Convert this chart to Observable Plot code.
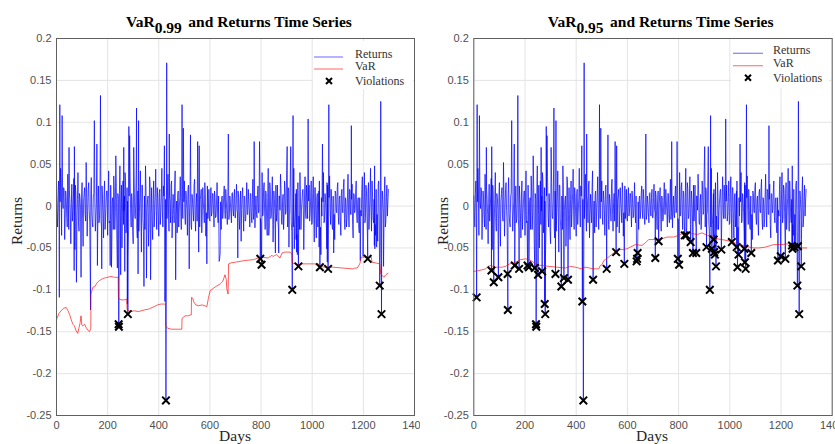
<!DOCTYPE html>
<html><head><meta charset="utf-8">
<script src="https://cdn.jsdelivr.net/npm/d3@7"></script>
<script src="https://cdn.jsdelivr.net/npm/@observablehq/plot@0.6"></script>
<style>
html,body{margin:0;padding:0;background:#fff;width:835px;height:444px;overflow:hidden;}
#wrap{position:relative;width:835px;height:444px;}
.panel{position:absolute;top:0;height:444px;overflow:hidden;}
#overlay{position:absolute;left:0;top:0;pointer-events:none;}
.ttl{font-family:'Liberation Serif','Times New Roman',serif;font-weight:bold;font-size:15.5px;fill:#000;}
.lab{font-family:'Liberation Serif','Times New Roman',serif;font-size:15.5px;fill:#262626;}
.leg{font-family:'Liberation Serif','Times New Roman',serif;font-size:12px;fill:#333;}
</style></head><body>
<div id="wrap">
  <div class="panel" id="p1" style="left:0;width:420px"></div>
  <div class="panel" id="p2" style="left:420px;width:415px"></div>
  <svg id="overlay" width="835" height="444">
    <text class="ttl" x="126" y="27">VaR<tspan dy="6">0.99</tspan><tspan dy="-6" dx="6.5">and Returns Time Series</tspan></text>
    <text class="ttl" x="547.7" y="27">VaR<tspan dy="6">0.95</tspan><tspan dy="-6" dx="6.5">and Returns Time Series</tspan></text>
    <text class="lab" text-anchor="middle" transform="translate(22.4,221) rotate(-90)">Returns</text>
    <text class="lab" text-anchor="middle" transform="translate(448,221) rotate(-90)">Returns</text>
    <text class="lab" text-anchor="middle" x="235" y="441">Days</text>
    <text class="lab" text-anchor="middle" x="652" y="441">Days</text>
    <g>
      <rect x="313" y="41" width="100" height="48" fill="#fff"/>
      <line x1="314" x2="343" y1="57" y2="57" stroke="#8080ff" stroke-width="1.2"/>
      <text class="leg" x="355" y="57.5">Returns</text>
      <line x1="314" x2="343" y1="69" y2="69" stroke="#ff8080" stroke-width="1.2"/>
      <text class="leg" x="355" y="70">VaR</text>
      <path d="M326,78L332,84M326,84L332,78" stroke="#000" stroke-width="2"/>
      <text class="leg" x="355" y="84.5">Violations</text>
    </g>
    <g>
      <rect x="731" y="39" width="98" height="49" fill="#fff"/>
      <line x1="733" x2="763" y1="53.3" y2="53.3" stroke="#8080ff" stroke-width="1.2"/>
      <text class="leg" x="773" y="54">Returns</text>
      <line x1="733" x2="763" y1="65.7" y2="65.7" stroke="#ff8080" stroke-width="1.2"/>
      <text class="leg" x="773" y="66.7">VaR</text>
      <path d="M745,74.7L751,80.7M745,80.7L751,74.7" stroke="#000" stroke-width="2"/>
      <text class="leg" x="773" y="81.7">Violations</text>
    </g>
  </svg>
</div>
<script>
// Axis ticks
const xTicks = [0, 200, 400, 600, 800, 1000, 1200, 1400];
const yTicks = [-0.25, -0.2, -0.15, -0.1, -0.05, 0, 0.05, 0.1, 0.15, 0.2];

// Returns (x1000), read on days 0,4,8,...
const retBase = [
  12,-25,30,-8,45,-35,5,22,-40,18,-12,38,-28,8,-45,26,-5,33,-52,14,-18,40,-30,10,-22,
  28,-48,15,-10,52,-36,20,-5,-58,34,-20,12,45,-30,6,-42,24,-15,55,-26,8,-38,30,-12,18,
  -35,42,-18,25,-55,10,36,-28,60,-40,15,-22,48,-10,-50,30,-6,40,-32,22,-60,12,35,-25,5,
  -45,28,-15,50,-38,18,-8,42,-55,25,-30,12,48,-20,8,-48,35,-12,22,-40,30,-5,44,-28,10,
  -36,20,-8,45,-25,12,-42,30,-15,38,-30,5,25,-38,14,-20,42,-10,-32,18,-5,35,-28,10,-18,
  30,-22,8,-35,25,-12,40,-28,6,-18,32,-30,15,-8,38,-25,12,-32,22,-5,28,-36,10,-15,20,
  -18,22,-8,15,-25,10,-12,28,-20,5,18,-28,12,-6,24,-15,8,-22,30,-10,4,-20,16,-12,20,
  -14,26,-8,12,-28,18,-4,22,-30,10,-16,28,-10,6,-25,15,-20,32,-8,-26,12,-14,24,-6,18,
  -22,40,-10,28,-28,15,-5,45,-25,20,-12,35,-28,8,48,-18,25,-26,12,38,-20,5,-28,30,-10,
  42,-25,18,-8,36,-30,10,45,-22,15,-34,28,-12,40,-28,6,20,-32,35,-15,8,-36,25,-10,30,
  -20,35,-12,22,-38,15,-5,30,-25,10,-35,40,-18,8,-30,25,-12,36,-22,5,-28,20,-40,15,-8,
  28,-22,12,-35,20,-8,32,-28,6,-15,38,-25,18,-10,26,-38,14,-4,30,-20,10,-32,22,-12,35,
  -25,40,-15,20,-38,28,-8,45,-30,12,-20,48,-35,15,-42,30,-10,38,-25,8,-40,35,-18,25,5
];
// Returns (x1000), read on days 2,6,10,...
const retBase2 = [
  -8,15,-20,5,22,-12,-3,18,-15,10,-25,6,20,-10,3,-18,12,-6,25,-14,8,-20,15,-4,10,
  -15,6,22,-18,10,-5,28,-20,12,-8,-25,15,4,-12,30,-6,-20,10,-15,24,-8,12,-28,5,18,
  10,-20,30,-12,5,-28,18,-8,22,-30,8,15,-18,25,-5,-22,12,30,-15,6,-25,20,-10,15,-30,
  20,-12,5,-25,18,-30,10,-8,25,-15,6,-28,20,-5,12,-20,28,-10,-18,8,-25,15,-6,22,-12,
  15,-22,10,-5,24,-15,8,-28,18,-6,12,-20,30,-10,-3,22,-18,6,14,-25,10,-8,20,-15,5,
  -12,18,-5,20,-15,8,-22,14,-6,25,-10,4,-18,12,-25,8,20,-12,5,-20,15,-8,24,-5,-15,
  8,-12,15,-5,18,-14,6,-10,12,-18,5,10,-15,14,-4,20,-10,6,-16,12,-8,15,-5,10,-14,
  10,-5,18,-12,6,-15,14,-8,12,-18,6,-10,20,-6,15,-12,8,-16,18,-5,-10,14,-8,12,-15,
  15,-12,22,-8,18,-20,10,-5,28,-15,6,-22,18,-10,25,-8,-18,12,-5,20,-22,14,-10,18,-6,
  -15,22,-10,30,-18,8,-25,15,-8,20,-12,25,-28,10,-5,18,-20,12,-8,25,-15,6,-18,10,-22,
  15,-8,22,-15,10,-25,18,-6,25,-12,5,-20,15,-8,28,-18,10,-5,20,-25,12,-10,18,-6,22,
  -12,8,-18,15,-6,22,-15,10,-25,12,-5,20,-10,8,-22,15,-8,18,-12,6,-25,10,-5,20,-15,
  12,-20,25,-8,15,-28,10,-5,30,-15,8,-22,20,-10,25,-18,12,-30,18,-8,15,-25,10,-12,20
];

// Positive return spikes
const upDays = [13,22,49,70,148,158,172,263,283,286,302,313,321,422,431,441,491,496,524,552,558,672,773,794,902,916,925,984,1040,1065,1153,1268];
const upVals = [0.121,0.108,0.070,0.071,0.102,0.074,0.132,0.070,0.095,0.084,0.070,0.117,0.102,0.072,0.171,0.086,0.121,0.093,0.085,0.077,0.072,0.086,0.077,0.077,0.071,0.071,0.108,0.104,0.074,0.121,0.096,0.125];

// Negative return spikes = VaR 0.95 violations
const v95Days = [11,69,78,96,132,133,160,177,210,215,238,243,244,251,267,277,279,319,342,352,368,424,428,466,519,556,588,636,638,640,709,722,797,802,824,830,847,856,869,909,922,930,937,939,942,946,967,1008,1027,1030,1034,1057,1059,1062,1084,1188,1199,1217,1243,1245,1252,1264,1266,1271,1279];
const v95Vals = [-0.109,-0.077,-0.091,-0.085,-0.081,-0.124,-0.071,-0.075,-0.071,-0.073,-0.074,-0.141,-0.144,-0.082,-0.078,-0.117,-0.129,-0.081,-0.096,-0.086,-0.088,-0.114,-0.232,-0.088,-0.075,-0.055,-0.069,-0.066,-0.063,-0.056,-0.062,-0.042,-0.063,-0.070,-0.035,-0.035,-0.043,-0.056,-0.056,-0.049,-0.100,-0.051,-0.040,-0.055,-0.058,-0.072,-0.052,-0.043,-0.049,-0.073,-0.058,-0.051,-0.067,-0.075,-0.056,-0.065,-0.060,-0.063,-0.047,-0.051,-0.049,-0.095,-0.048,-0.129,-0.072];

// VaR 0.99 violations
const v99Days = [243,244,279,428,797,802,922,946,1030,1062,1217,1264,1271];
const v99Vals = [-0.141,-0.144,-0.129,-0.232,-0.063,-0.070,-0.100,-0.072,-0.073,-0.075,-0.063,-0.095,-0.129];

// VaR 0.99 series
const var99Days = [0,3,10,18,28,38,45,51,58,64,70,77,83,88,92,96,99,103,110,116,122,129,134,135,142,150,160,168,178,187,200,213,226,241,242,252,265,275,276,290,304,320,343,360,382,395,408,426,427,435,450,477,490,491,503,515,523,527,528,533,536,545,555,570,588,594,601,614,628,640,650,659,664,666,671,673,680,700,737,770,789,796,800,828,841,848,860,874,882,893,913,921,922,945,960,1004,1024,1030,1049,1082,1120,1160,1166,1176,1186,1192,1205,1231,1234,1250,1264,1268,1280,1288,1296];
const var99Vals = [-0.136,-0.133,-0.128,-0.125,-0.122,-0.121,-0.125,-0.129,-0.136,-0.141,-0.143,-0.149,-0.152,-0.145,-0.140,-0.131,-0.142,-0.143,-0.141,-0.145,-0.148,-0.150,-0.146,-0.105,-0.097,-0.096,-0.091,-0.089,-0.087,-0.086,-0.085,-0.084,-0.085,-0.085,-0.110,-0.112,-0.112,-0.111,-0.124,-0.126,-0.125,-0.126,-0.124,-0.123,-0.120,-0.118,-0.117,-0.117,-0.143,-0.146,-0.147,-0.147,-0.147,-0.134,-0.131,-0.131,-0.130,-0.130,-0.109,-0.110,-0.114,-0.118,-0.119,-0.118,-0.120,-0.110,-0.101,-0.098,-0.095,-0.093,-0.090,-0.082,-0.088,-0.099,-0.105,-0.069,-0.068,-0.067,-0.065,-0.064,-0.062,-0.062,-0.061,-0.062,-0.059,-0.060,-0.058,-0.062,-0.056,-0.055,-0.055,-0.057,-0.068,-0.070,-0.069,-0.069,-0.069,-0.072,-0.073,-0.073,-0.074,-0.075,-0.074,-0.074,-0.069,-0.061,-0.061,-0.061,-0.067,-0.068,-0.069,-0.081,-0.085,-0.082,-0.080];

// VaR 0.95 series
const var95Days = [0,20,46,55,65,84,111,123,140,156,170,182,202,215,228,245,267,293,326,358,378,397,423,436,469,488,494,501,508,514,530,546,566,580,599,605,631,657,670,683,710,735,755,780,800,813,840,872,891,913,924,950,969,1002,1030,1061,1093,1113,1140,1171,1200,1230,1249,1256,1280,1301];
const var95Vals = [-0.078,-0.077,-0.075,-0.072,-0.071,-0.073,-0.073,-0.072,-0.069,-0.068,-0.066,-0.064,-0.063,-0.064,-0.066,-0.070,-0.071,-0.072,-0.073,-0.074,-0.072,-0.073,-0.075,-0.073,-0.075,-0.075,-0.071,-0.070,-0.065,-0.064,-0.060,-0.056,-0.052,-0.052,-0.051,-0.050,-0.046,-0.047,-0.044,-0.040,-0.040,-0.039,-0.037,-0.037,-0.035,-0.033,-0.032,-0.034,-0.032,-0.035,-0.036,-0.039,-0.040,-0.042,-0.045,-0.048,-0.050,-0.050,-0.049,-0.046,-0.046,-0.045,-0.045,-0.049,-0.050,-0.050];

// Build tables
const retMap = new Map();
retBase.forEach((v, i) => retMap.set(i * 4, v / 1000));
retBase2.forEach((v, i) => retMap.set(i * 4 + 2, v / 1000));
upDays.forEach((d, i) => retMap.set(d, upVals[i]));
v95Days.forEach((d, i) => retMap.set(d, v95Vals[i]));
const returns = Array.from(retMap, ([day, ret]) => ({day, ret})).sort((a, b) => a.day - b.day);
const var99 = var99Days.map((d, i) => ({day: d, v: var99Vals[i]}));
const var95 = var95Days.map((d, i) => ({day: d, v: var95Vals[i]}));
const viol99 = v99Days.map((d, i) => ({day: d, r: v99Vals[i]}));
const viol95 = v95Days.map((d, i) => ({day: d, r: v95Vals[i]}));

function panel(el, width, ml, mr, varData, violData) {
  const chart = Plot.plot({
    width, height: 444,
    marginLeft: ml, marginRight: mr, marginTop: 38, marginBottom: 29,
    style: {fontFamily: "'Liberation Sans', Arial, sans-serif", fontSize: "11px", color: "#505050", background: "white"},
    x: {domain: [0, 1400], ticks: xTicks, tickSize: 0, tickPadding: 6, label: null, tickFormat: d => String(d)},
    y: {domain: [-0.25, 0.2], ticks: yTicks, tickSize: 0, tickPadding: 5, label: null, tickFormat: d => String(d)},
    marks: [
      Plot.ruleX(xTicks, {stroke: "#e4e4e4", strokeWidth: 1}),
      Plot.ruleY(yTicks, {stroke: "#e4e4e4", strokeWidth: 1}),
      Plot.line(returns, {x: "day", y: "ret", stroke: "#0000ff", strokeWidth: 0.9, strokeOpacity: 0.78}),
      Plot.line(varData, {x: "day", y: "v", stroke: "#ff0000", strokeWidth: 0.8, strokeOpacity: 0.8}),
      Plot.dot(violData, {x: "day", y: "r", symbol: "times", r: 3.5, stroke: "#000", strokeWidth: 2}),
      Plot.frame({stroke: "#606060"})
    ]
  });
  document.getElementById(el).appendChild(chart);
}
panel("p1", 420, 56, 6, var99, viol99);
panel("p2", 415, 53.3, 3.3, var95, viol95);
</script>
</body></html>
